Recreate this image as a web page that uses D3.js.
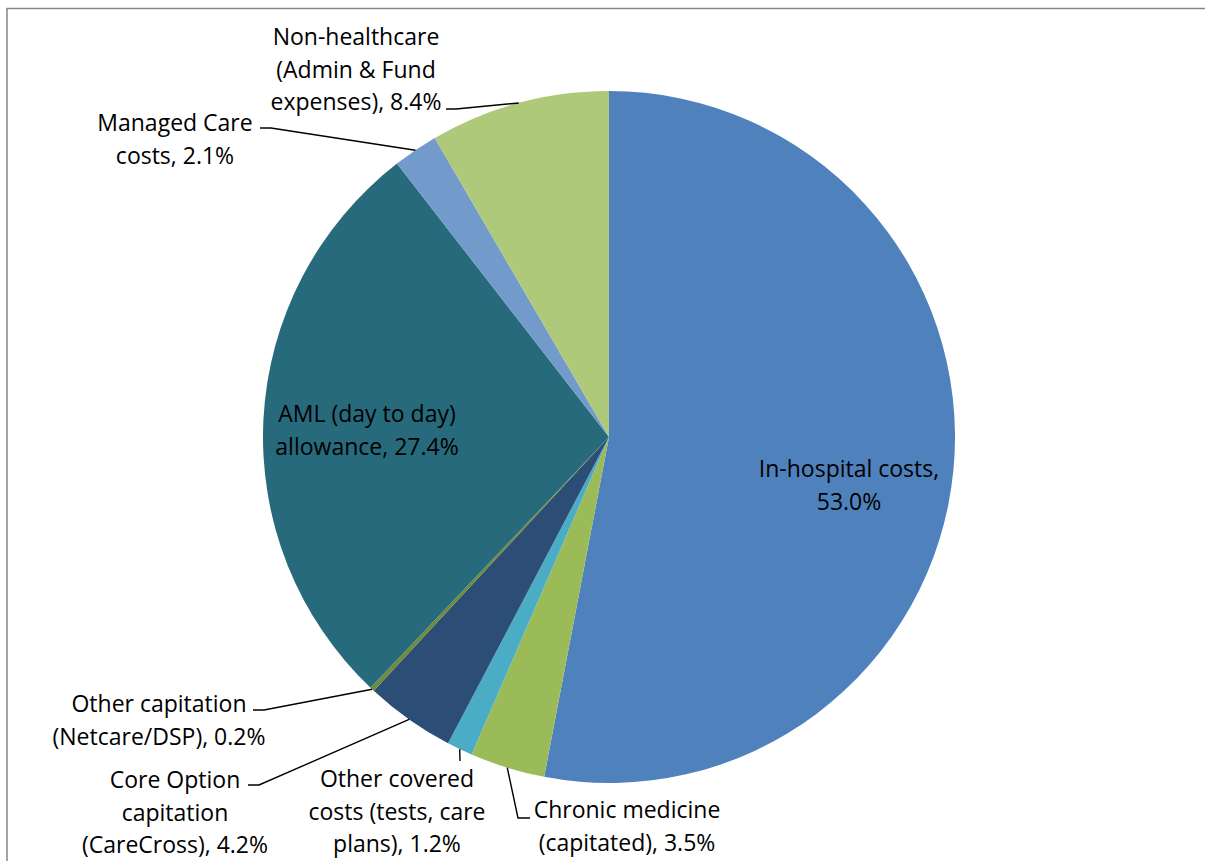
<!DOCTYPE html>
<html>
<head>
<meta charset="utf-8">
<script src="https://cdn.jsdelivr.net/npm/d3@7"></script>
<style>
  html, body { margin: 0; padding: 0; background: #fff; }
  svg { display: block; }
  text { font-family: "Open Sans", "Liberation Sans", sans-serif; font-size: 23px; fill: #000; }
</style>
</head>
<body>
<svg id="chart" width="1205" height="861"></svg>
<script>
// ---- data ----
const categories = [
  "In-hospital costs",
  "Chronic medicine (capitated)",
  "Other covered costs (tests, care plans)",
  "Core Option capitation (CareCross)",
  "Other capitation (Netcare/DSP)",
  "AML (day to day) allowance",
  "Managed Care costs",
  "Non-healthcare (Admin & Fund expenses)"
];
const values = [53.0, 3.5, 1.2, 4.2, 0.2, 27.4, 2.1, 8.4];
const labelLines = [
  ["In-hospital costs,", "53.0%"],
  ["Chronic medicine", "(capitated), 3.5%"],
  ["Other covered", "costs (tests, care", "plans), 1.2%"],
  ["Core Option", "capitation", "(CareCross), 4.2%"],
  ["Other capitation", "(Netcare/DSP), 0.2%"],
  ["AML (day to day)", "allowance, 27.4%"],
  ["Managed Care", "costs, 2.1%"],
  ["Non-healthcare", "(Admin & Fund", "expenses), 8.4%"]
];
const colors = ["#4F81BD", "#9BBB59", "#4BACC6", "#2C4D75", "#6F8C3A", "#276A7C", "#729ACA", "#AFC97A"];

// ---- layout (label placement: center x, first baseline y, leader start) ----
const labelLayout = [
  { x: 849, y: 477, leader: null },
  { x: 627, y: 818, leader: [[530, 818], [518, 818]] },
  { x: 397, y: 787, leader: [[460, 761]] },
  { x: 175, y: 788, leader: [[248, 785], [259, 785]] },
  { x: 159, y: 712, leader: [[253, 710], [264, 710]] },
  { x: 367, y: 422, leader: null },
  { x: 175, y: 131, leader: [[260, 128], [271, 128]] },
  { x: 356, y: 45, leader: [[446, 109], [456, 109]] }
];
const lineHeight = 32.5;

const svg = d3.select("#chart");
const W = 1205, H = 861;
const cx = 609, cy = 437, R = 346;

// chart border (only top/left visible)
svg.append("rect")
  .attr("x", 7).attr("y", 8.5)
  .attr("width", W + 20).attr("height", H + 20)
  .attr("fill", "none").attr("stroke", "#868686").attr("stroke-width", 1.5);

const pie = d3.pie().sort(null).value(d => d)(values);
const arc = d3.arc().innerRadius(0).outerRadius(R);
const edgeArc = d3.arc().innerRadius(R).outerRadius(R);

const g = svg.append("g").attr("transform", `translate(${cx},${cy})`);
g.selectAll("path.slice").data(pie).join("path")
  .attr("class", "slice")
  .attr("d", arc)
  .attr("fill", (d, i) => colors[i]);

// leader lines
pie.forEach((d, i) => {
  const L = labelLayout[i];
  if (!L.leader) return;
  const c = edgeArc.centroid(d);
  const pts = L.leader.map(p => [p[0], p[1]]).concat([[cx + c[0], cy + c[1]]]);
  svg.append("path")
    .attr("d", d3.line()(pts))
    .attr("fill", "none")
    .attr("stroke", "#000")
    .attr("stroke-width", 1.4);
});

// labels
labelLines.forEach((lines, i) => {
  const L = labelLayout[i];
  const t = svg.append("text").attr("text-anchor", "middle");
  lines.forEach((ln, j) => {
    t.append("tspan").attr("x", L.x).attr("y", L.y + j * lineHeight).text(ln);
  });
});
</script>
</body>
</html>
